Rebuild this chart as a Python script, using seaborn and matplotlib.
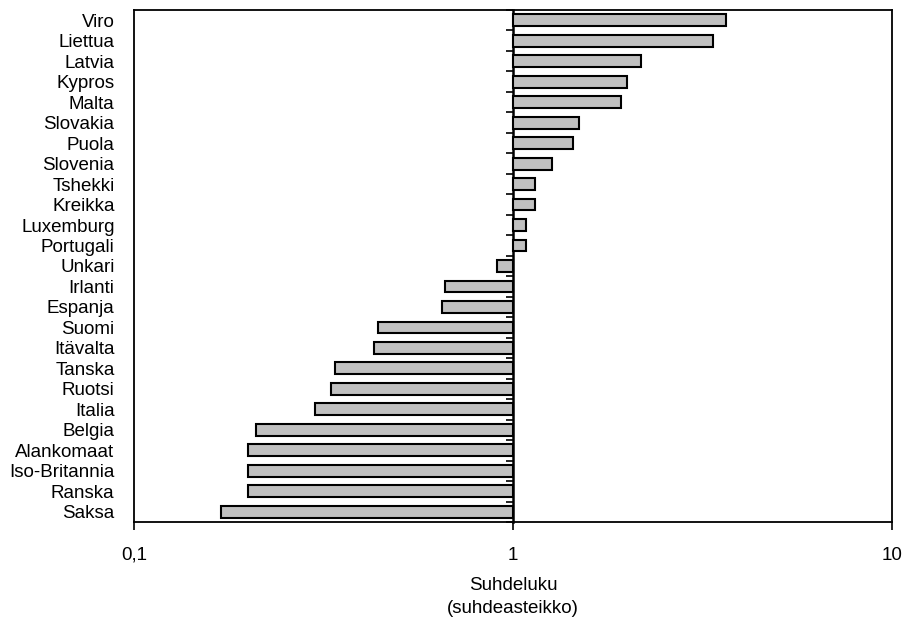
import numpy as np
import pandas as pd
import matplotlib
matplotlib.use("Agg")
import matplotlib.pyplot as plt
import seaborn as sns

countries = ["Viro", "Liettua", "Latvia", "Kypros", "Malta", "Slovakia", "Puola",
             "Slovenia", "Tshekki", "Kreikka", "Luxemburg", "Portugali", "Unkari",
             "Irlanti", "Espanja", "Suomi", "Itävalta", "Tanska", "Ruotsi", "Italia",
             "Belgia", "Alankomaat", "Iso-Britannia", "Ranska", "Saksa"]
ratios = [3.65, 3.38, 2.17, 2.00, 1.93, 1.49, 1.44, 1.27, 1.14, 1.14, 1.08, 1.08,
          0.91, 0.66, 0.65, 0.44, 0.43, 0.34, 0.33, 0.30, 0.21, 0.20, 0.20, 0.20, 0.17]
tick_values = [0.1, 1, 10]
tick_labels = ["0,1", "1", "10"]

sns.set_theme(style="white")
plt.rcParams["font.family"] = ["Liberation Sans", "DejaVu Sans"]
plt.rcParams["text.color"] = "black"
plt.rcParams["axes.labelcolor"] = "black"

df = pd.DataFrame({"maa": countries, "log_ratio": np.log10(ratios)})

fig = plt.figure(figsize=(9.06, 6.22), dpi=100)
ax = fig.add_axes([134 / 906, 1 - 522 / 622, (892 - 134) / 906, (522 - 10) / 622])

sns.barplot(data=df, x="log_ratio", y="maa", orient="h", order=countries,
            color="#c0c0c0", edgecolor="black", linewidth=1.5, width=0.58,
            saturation=1, ax=ax)

ax.set_xlim(np.log10(tick_values[0]), np.log10(tick_values[-1]))
ax.set_xticks(np.log10(tick_values))
ax.set_xticklabels(tick_labels)
ax.set_xlabel("Suhdeluku\n(suhdeasteikko)", fontsize=13.5, linespacing=1.5,
              labelpad=9, color="black")
ax.set_ylabel("")

ax.tick_params(axis="x", direction="out", length=6, width=1.2, bottom=True,
               labelsize=13.5, pad=12, colors="black")
ax.tick_params(axis="y", length=0, labelsize=13.5, pad=14, colors="black")
for s in ax.spines.values():
    s.set_visible(True)
    s.set_color("black")
    s.set_linewidth(1.3)

# category axis at ratio 1 (middle of the log range)
sec = ax.secondary_yaxis(0.5)
sec.set_yticks(np.arange(-0.5, len(countries), 1.0))
sec.set_yticklabels([])
sec.tick_params(axis="y", direction="in", length=5, width=1.2, colors="black")
for s in sec.spines.values():
    s.set_linewidth(1.8)
    s.set_color("black")

fig.savefig("out.png", dpi=100)
